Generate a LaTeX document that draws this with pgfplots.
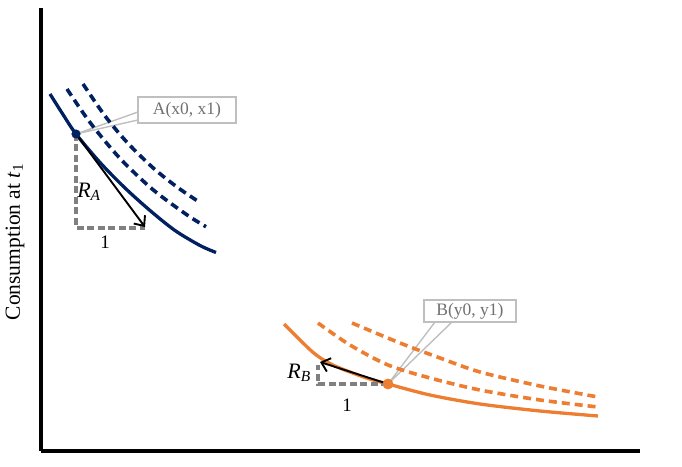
\documentclass[border=0pt]{standalone}
\usepackage{pgfplots}
\pgfplotsset{compat=1.18}
\usepackage{pgfplotstable}
\usepackage{fontspec}
\setmainfont{Liberation Serif}
\usetikzlibrary{arrows.meta}
\definecolor{navy}{HTML}{002060}
\definecolor{orng}{HTML}{ED7D31}
\definecolor{dgray}{HTML}{808080}
\definecolor{lgray}{HTML}{BFBFBF}
\definecolor{tgray}{HTML}{707070}

% curves, in picture pixels (px right, py down)
\pgfplotstableread{
px py
50 94
63 114.5
76 134
100 162.5
125 188
150 210.5
175 230.5
200 245.5
216 252.5
}\blueS
\pgfplotstableread{
px py
67 89
90 122.4
120 158.4
153 189.7
187 214.9
206 226.7
}\blueDa
\pgfplotstableread{
px py
83 84
105 115.9
127 142.3
153 167.8
177 187
197 200.6
}\blueDb
\pgfplotstableread{
px py
284 324
300 340
312 351.5
322 359
335 366
350 372
368 378.5
388 384
430 395
480 404
540 411
598 416
}\orS
\pgfplotstableread{
px py
318 323
350 345
388 365
430 378
480 390
540 400
598 407
}\orDa
\pgfplotstableread{
px py
352 323
400 343
440 358
480 372
540 386
598 397
}\orDb

\begin{document}
\begin{tikzpicture}
\begin{axis}[
  scale only axis, width=599pt, height=443pt,
  xmin=41, xmax=640, ymin=15, ymax=458,
  axis x line=bottom, axis y line=left,
  axis line style={line width=4.2pt,-},
  xtick=\empty, ytick=\empty, clip=false]

% callout leader lines (behind curves)
\addplot[lgray, line width=1.4pt] coordinates {(138,354) (76,332) (138,346)};
\addplot[lgray, line width=1.4pt] coordinates {(435,144) (388,82) (452,144)};

\addplot[navy, line width=3.3pt, smooth, no marks] table[x=px, y expr=466-\thisrow{py}] {\blueS};
\addplot[navy, line width=3.6pt, dash pattern=on 8pt off 5pt, smooth, no marks] table[x=px, y expr=466-\thisrow{py}] {\blueDa};
\addplot[navy, line width=3.6pt, dash pattern=on 8pt off 5pt, smooth, no marks] table[x=px, y expr=466-\thisrow{py}] {\blueDb};

\addplot[orng, line width=3.3pt, smooth, no marks] table[x=px, y expr=466-\thisrow{py}] {\orS};
\addplot[orng, line width=3.6pt, dash pattern=on 8pt off 5pt, smooth, no marks] table[x=px, y expr=466-\thisrow{py}] {\orDa};
\addplot[orng, line width=3.6pt, dash pattern=on 8pt off 5pt, smooth, no marks] table[x=px, y expr=466-\thisrow{py}] {\orDb};

% slope triangles
\addplot[dgray, line width=3.2pt, dash pattern=on 7pt off 3.5pt] coordinates {(76,332) (76,238) (145,238)};
\addplot[dgray, line width=3.2pt, dash pattern=on 7pt off 3.5pt] coordinates {(388,82) (318,82) (318,101)};
\addplot[black, line width=1.9pt, -{Straight Barb[length=8pt,width=14pt]}] coordinates {(76,332) (145,239)};
\addplot[black, line width=1.9pt, -{Straight Barb[length=8pt,width=14pt]}] coordinates {(388,82) (320,104)};

% points
\addplot[only marks, mark=*, mark size=4.3pt, navy] coordinates {(76,332)};
\addplot[only marks, mark=*, mark size=5.2pt, orng] coordinates {(388,82)};

% callout boxes
\draw[lgray, line width=1.4pt, fill=white] (axis cs:138,343) rectangle (axis cs:236,369);
\node[text=tgray, font=\fontsize{17.5}{20}\selectfont] at (axis cs:187,356) {A(x0, x1)};
\draw[lgray, line width=1.4pt, fill=white] (axis cs:424,144) rectangle (axis cs:516,166);
\node[text=tgray, font=\fontsize{17.5}{20}\selectfont] at (axis cs:470,155) {B(y0, y1)};

% labels
\node[font=\fontsize{22}{24}\selectfont] at (axis cs:89,274) {\textit{R}\textsubscript{\textit{A}}};
\node[font=\fontsize{19}{22}\selectfont] at (axis cs:105,224) {1};
\node[font=\fontsize{22}{24}\selectfont] at (axis cs:299,93) {\textit{R}\textsubscript{\textit{B}}};
\node[font=\fontsize{19}{22}\selectfont] at (axis cs:347,61) {1};

\node[rotate=90, font=\fontsize{21.5}{24}\selectfont] at (axis cs:15,224) {Consumption at \textit{t}\textsubscript{1}};

\path (axis cs:0,0) rectangle (axis cs:682,466);
\end{axis}
\end{tikzpicture}
\end{document}
